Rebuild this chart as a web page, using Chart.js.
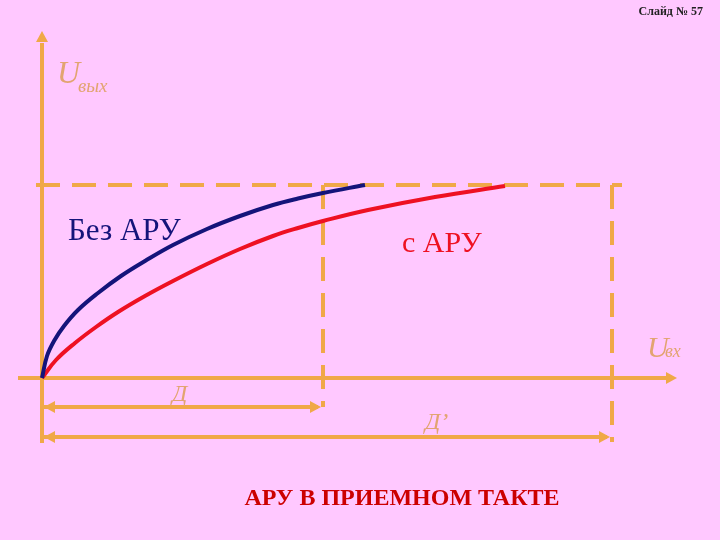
<!DOCTYPE html>
<html>
<head>
<meta charset="utf-8">
<script src="https://cdn.jsdelivr.net/npm/chart.js@4.4.1/dist/chart.umd.min.js"></script>
<style>
  html, body { margin: 0; padding: 0; background: #FFC8FF; }
  #wrap { width: 720px; height: 540px; }
</style>
</head>
<body>
<div id="wrap"><canvas id="aruChart" width="720" height="540"></canvas></div>
<script>
'use strict';

// ── Data: Uвых vs Uвх, without and with АРУ ──
const noAgcX  = [0, 0.5, 1.2, 2.2, 3.6, 5.6, 7.9, 10.3, 13.1, 16.5, 19.8, 23.1, 25.6, 28.1, 32.3];
const noAgcY  = [0, 2.2, 3.7, 5.2, 6.8, 8.5, 10.2, 11.7, 13.3, 14.9, 16.2, 17.3, 17.95, 18.5, 19.3];
const agcX    = [0, 1.4, 3.3, 5.4, 7.6, 10.3, 13.1, 16.5, 19.8, 23.1, 25.6, 28.1, 32.6, 39.3, 46.3];
const agcY    = [0, 1.8, 3.5, 5.1, 6.6, 8.2, 9.7, 11.4, 12.9, 14.2, 15.0, 15.7, 16.8, 18.1, 19.2];

// reference levels
const uMax      = 19.3;   // saturation level (dashed)
const rangeD    = 28.1;   // Д
const rangeD2   = 57.0;   // Д'

const ORANGE = '#F0A848';
const NAVY   = '#14147A';
const RED    = '#EE1122';

const toPts = (xs, ys) => xs.map((x, i) => ({ x, y: ys[i] }));

function guide(points, dashed) {
  return {
    data: points,
    showLine: true,
    borderColor: ORANGE,
    borderWidth: 4,
    borderDash: dashed ? [24, 12] : [],
    pointRadius: 0,
    tension: 0,
    order: 2,
  };
}

function curve(xs, ys, color) {
  return {
    data: toPts(xs, ys),
    showLine: true,
    borderColor: color,
    borderWidth: 4,
    pointRadius: 0,
    tension: 0.4,
    order: 1,
  };
}

// arrowheads: [x, y, direction]
const arrowHeads = [
  [0, 34.3, 'up'],
  [63.5, 0, 'right'],
  [0.2, -2.9, 'left'],
  [rangeD - 0.2, -2.9, 'right'],
  [0.2, -5.9, 'left'],
  [rangeD2 - 0.2, -5.9, 'right'],
];

// labels: [text, x, y, font, color, align]
const labels = [
  ['Без АРУ', 2.6, 13.8, '31px "Liberation Serif"', NAVY, 'left'],
  ['с АРУ', 36.0, 12.6, '30px "Liberation Serif"', RED, 'left'],
  ['U', 1.5, 29.5, 'italic 32px "Liberation Serif"', '#E2A470', 'left'],
  ['вых', 3.6, 28.6, 'italic 19px "Liberation Serif"', '#E2A470', 'left'],
  ['U', 60.5, 2.1, 'italic 30px "Liberation Serif"', '#E2A470', 'left'],
  ['вх', 62.3, 2.1, 'italic 18px "Liberation Serif"', '#E2A470', 'left'],
  ['Д', 13.0, -2.3, 'italic 24px "Liberation Serif"', '#E2A470', 'left'],
  ['Д’', 38.3, -5.1, 'italic 24px "Liberation Serif"', '#E2A470', 'left'],
  ['АРУ В ПРИЕМНОМ ТАКТЕ', 36.0, -12.7, 'bold 24px "Liberation Serif"', '#CC0000', 'center'],
  ['Слайд № 57', 66.1, 36.3, 'bold 12px "Liberation Serif"', '#222222', 'right'],
];

const decorPlugin = {
  id: 'decor',
  afterDatasetsDraw(chart) {
    const { ctx, scales: { x, y } } = chart;
    ctx.save();
    ctx.fillStyle = ORANGE;
    arrowHeads.forEach(([ax, ay, dir]) => {
      const px = x.getPixelForValue(ax);
      const py = y.getPixelForValue(ay);
      const L = 11, W = 6;
      ctx.beginPath();
      if (dir === 'up')    { ctx.moveTo(px, py - 4); ctx.lineTo(px - W, py + L - 4); ctx.lineTo(px + W, py + L - 4); }
      if (dir === 'right') { ctx.moveTo(px, py); ctx.lineTo(px - L, py - W); ctx.lineTo(px - L, py + W); }
      if (dir === 'left')  { ctx.moveTo(px, py); ctx.lineTo(px + L, py - W); ctx.lineTo(px + L, py + W); }
      ctx.closePath();
      ctx.fill();
    });
    labels.forEach(([text, lx, ly, font, color, align]) => {
      ctx.font = font;
      ctx.fillStyle = color;
      ctx.textAlign = align;
      ctx.textBaseline = 'alphabetic';
      ctx.fillText(text, x.getPixelForValue(lx), y.getPixelForValue(ly));
    });
    ctx.restore();
  },
};

new Chart(document.getElementById('aruChart'), {
  type: 'scatter',
  data: {
    datasets: [
      curve(noAgcX, noAgcY, NAVY),
      curve(agcX, agcY, RED),
      guide([{ x: 0, y: -6.5 }, { x: 0, y: 33.5 }], false),           // Uвых axis
      guide([{ x: -2.4, y: 0 }, { x: 63.0, y: 0 }], false),           // Uвх axis
      guide([{ x: -0.6, y: uMax }, { x: rangeD2 + 1, y: uMax }], true),
      guide([{ x: rangeD, y: uMax }, { x: rangeD, y: -2.9 }], true),
      guide([{ x: rangeD2, y: uMax }, { x: rangeD2, y: -6.4 }], true),
      guide([{ x: 0, y: -2.9 }, { x: rangeD - 0.5, y: -2.9 }], false), // Д
      guide([{ x: 0, y: -5.9 }, { x: rangeD2 - 0.5, y: -5.9 }], false), // Д'
    ],
  },
  options: {
    responsive: false,
    animation: false,
    layout: { padding: 0 },
    plugins: { legend: { display: false }, tooltip: { enabled: false } },
    scales: {
      x: { type: 'linear', display: false, min: -4.2, max: 67.8 },
      y: { type: 'linear', display: false, min: -16.2, max: 37.8 },
    },
  },
  plugins: [decorPlugin],
});
</script>
</body>
</html>
